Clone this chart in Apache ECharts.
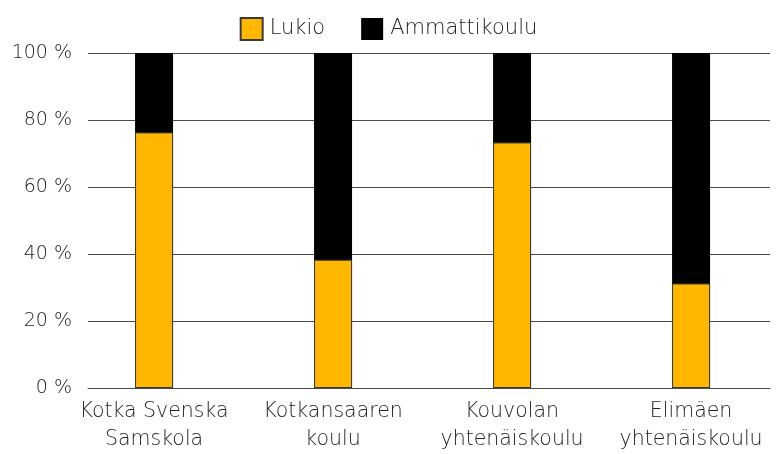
<!DOCTYPE html>
<html>
<head>
<meta charset="utf-8">
<script src="https://cdn.jsdelivr.net/npm/echarts@6/dist/echarts.min.js"></script>
<style>
  html, body { margin: 0; padding: 0; background: #fff; }
  #chart { width: 777px; height: 454px; }
</style>
</head>
<body>
<div id="chart"></div>
<script>
// schools on the x axis
const schools = ['Kotka Svenska\nSamskola', 'Kotkansaaren\nkoulu', 'Kouvolan\nyhtenäiskoulu', 'Elimäen\nyhtenäiskoulu'];
// share (%) heading to upper secondary / vocational school
const lukio = [76.3, 38.3, 73.3, 31.2];
const ammattikoulu = [23.7, 61.7, 26.7, 68.8];
const yTicks = [0, 20, 40, 60, 80, 100];

// black bar drawn to the stacked total, yellow overlaid from 0
const totals = lukio.map((v, i) => v + ammattikoulu[i]);

const font = 'DejaVu Sans';
const weight = 200;
const chart = echarts.init(document.getElementById('chart'));

chart.setOption({
  animation: false,
  textStyle: { fontFamily: font, fontWeight: weight },
  legend: {
    top: 12,
    left: 'center',
    icon: 'rect',
    itemWidth: 22,
    itemHeight: 22,
    itemGap: 36,
    textStyle: { fontFamily: font, fontWeight: weight, fontSize: 21, color: '#222', padding: [0, 0, 0, 2] },
    data: ['Lukio', 'Ammattikoulu']
  },
  grid: { left: 88, right: 7, top: 53, bottom: 64, containLabel: false },
  xAxis: {
    type: 'value',
    min: -0.369,
    max: 3.441,
    splitLine: { show: false },
    axisLine: { show: true, lineStyle: { color: '#4a4a4a', width: 1 } },
    axisTick: { show: false },
    axisLabel: {
      customValues: [0, 1, 2, 3],
      formatter: v => schools[Math.round(v)],
      fontFamily: font, fontWeight: weight, fontSize: 20.5, color: '#222',
      lineHeight: 28, margin: 10
    }
  },
  yAxis: {
    type: 'value',
    min: 0,
    max: 100,
    interval: 20,
    axisLine: { show: false },
    axisTick: { show: false },
    splitLine: { lineStyle: { color: '#4a4a4a', width: 1 } },
    axisLabel: {
      formatter: v => yTicks.includes(v) ? v + ' %' : '',
      fontFamily: font, fontWeight: weight, fontSize: 19, color: '#222', margin: 16
    }
  },
  series: [
    {
      name: 'Ammattikoulu',
      type: 'bar',
      barWidth: 38,
      itemStyle: { color: '#000000' },
      data: totals.map((v, i) => [i, v])
    },
    {
      name: 'Lukio',
      type: 'bar',
      barWidth: 38,
      barGap: '-100%',
      itemStyle: { color: '#FFB700', borderColor: '#3a3a3a', borderWidth: 1 },
      data: lukio.map((v, i) => [i, v])
    }
  ]
});
</script>
</body>
</html>
